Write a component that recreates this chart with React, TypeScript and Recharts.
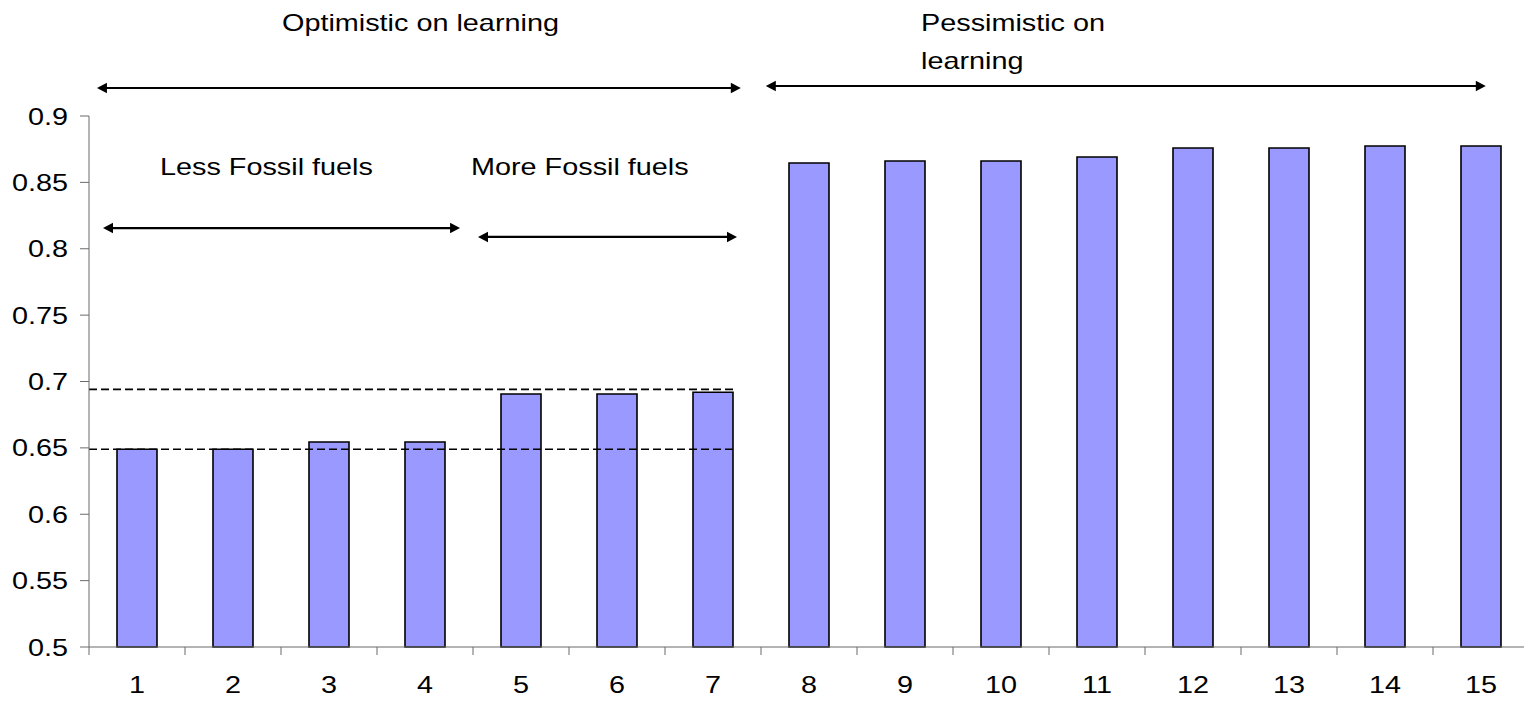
import React from 'react';
import { BarChart, Bar, XAxis, YAxis, ReferenceLine } from 'recharts';

// ---- data ----
const scenarios = [1, 2, 3, 4, 5, 6, 7, 8, 9, 10, 11, 12, 13, 14, 15];
const shareValues = [
  0.649, 0.649, 0.6544, 0.6544, 0.6906, 0.6906, 0.6919,
  0.8646, 0.8661, 0.8661, 0.8691, 0.8759, 0.8759, 0.8774, 0.8774,
];
const yTicks = [0.5, 0.55, 0.6, 0.65, 0.7, 0.75, 0.8, 0.85, 0.9];
const xDomain = [0.5, 15.5];
const dashLevels = [0.649, 0.6941];
const dashRange = [0.5, 7.23];
const arrowFrom = [0.583, 7.55, 0.646, 4.552];
const arrowTo = [7.29, 15.05, 4.365, 7.25];
const arrowLevel = [0.9211, 0.9226, 0.8156, 0.8089];

const data = scenarios.map((s, i) => ({ scenario: s, value: shareValues[i] }));
const xTicks = [...scenarios.flatMap((s) => [s - 0.5, s]), scenarios[scenarios.length - 1] + 0.5];

const FONT = '"Liberation Sans", Arial, Helvetica, sans-serif';
const SX = 1.2;
const AXIS = '#6b6b6b';

const YTick = (props: any) => {
  const { x, y, payload } = props;
  return (
    <text
      x={0}
      y={0}
      transform={`translate(${x},${y}) scale(${SX},1)`}
      textAnchor="end"
      dy="0.355em"
      fontSize={24}
      fontFamily={FONT}
      fill="#000"
    >
      {String(payload.value)}
    </text>
  );
};

const XTick = (props: any) => {
  const { x, y, payload } = props;
  const v = payload.value;
  if (Number.isInteger(v)) {
    return (
      <text
        x={0}
        y={0}
        transform={`translate(${x},${y + 29}) scale(${SX},1)`}
        textAnchor="middle"
        dy="0.71em"
        fontSize={24}
        fontFamily={FONT}
        fill="#000"
      >
        {String(v)}
      </text>
    );
  }
  return <line x1={x} x2={x} y1={y} y2={y + 8} stroke={AXIS} strokeWidth={1} />;
};

const ArrowShape = (props: any) => {
  const { x1, y1, x2, y2 } = props;
  const head = 10;
  const half = 5.3;
  const left = Math.min(x1, x2);
  const right = Math.max(x1, x2);
  const y = y1;
  return (
    <g>
      <line x1={left + head - 1} x2={right - head + 1} y1={y} y2={y2} stroke="#000" strokeWidth={2.2} />
      <polygon points={`${left},${y} ${left + head},${y - half} ${left + head},${y + half}`} fill="#000" />
      <polygon points={`${right},${y} ${right - head},${y - half} ${right - head},${y + half}`} fill="#000" />
    </g>
  );
};

const textStyle: React.CSSProperties = {
  position: 'absolute',
  fontFamily: FONT,
  fontSize: 24,
  color: '#000',
  whiteSpace: 'nowrap',
  transform: `scaleX(${SX})`,
  transformOrigin: 'left top',
  lineHeight: '27px',
};

export default function App() {
  return (
    <div
      style={{
        position: 'absolute',
        left: 0,
        top: 0,
        width: 1524,
        height: 701,
        overflow: 'hidden',
        background: '#fff',
      }}
    >
      <BarChart
        width={1529}
        height={701}
        data={data}
        margin={{ top: 116, right: 0, bottom: 0, left: 0 }}
      >
        <XAxis
          dataKey="scenario"
          type="number"
          domain={xDomain}
          ticks={xTicks}
          interval={0}
          allowDecimals
          tickLine={false}
          tickSize={0}
          tickMargin={0}
          axisLine={{ stroke: AXIS, strokeWidth: 1 }}
          tick={<XTick />}
          height={54}
        />
        <YAxis
          type="number"
          domain={[0.5, 0.9]}
          ticks={yTicks}
          interval={0}
          width={89}
          tickSize={9}
          tickMargin={12}
          axisLine={{ stroke: AXIS, strokeWidth: 1 }}
          tickLine={{ stroke: AXIS, strokeWidth: 1 }}
          tick={<YTick />}
        />
        <Bar
          dataKey="value"
          fill="#9999ff"
          stroke="#000"
          strokeWidth={1.6}
          barSize={40}
          isAnimationActive={false}
        />
        {dashLevels.map((lv, i) => (
          <ReferenceLine
            key={`d${i}`}
            segment={[
              { x: dashRange[0], y: lv },
              { x: dashRange[1], y: lv },
            ]}
            stroke="#000"
            strokeWidth={1.6}
            strokeDasharray="8 4"
            ifOverflow="visible"
          />
        ))}
        {arrowFrom.map((f, i) => (
          <ReferenceLine
            key={`a${i}`}
            segment={[
              { x: f, y: arrowLevel[i] },
              { x: arrowTo[i], y: arrowLevel[i] },
            ]}
            ifOverflow="visible"
            shape={ArrowShape}
          />
        ))}
      </BarChart>
      <div style={{ ...textStyle, left: 281.6, top: 8.7 }}>Optimistic on learning</div>
      <div style={{ ...textStyle, left: 920.5, top: 3.5, lineHeight: '38px' }}>
        Pessimistic on
        <br />
        learning
      </div>
      <div style={{ ...textStyle, left: 160, top: 153 }}>Less Fossil fuels</div>
      <div style={{ ...textStyle, left: 470.9, top: 153 }}>More Fossil fuels</div>
    </div>
  );
}
